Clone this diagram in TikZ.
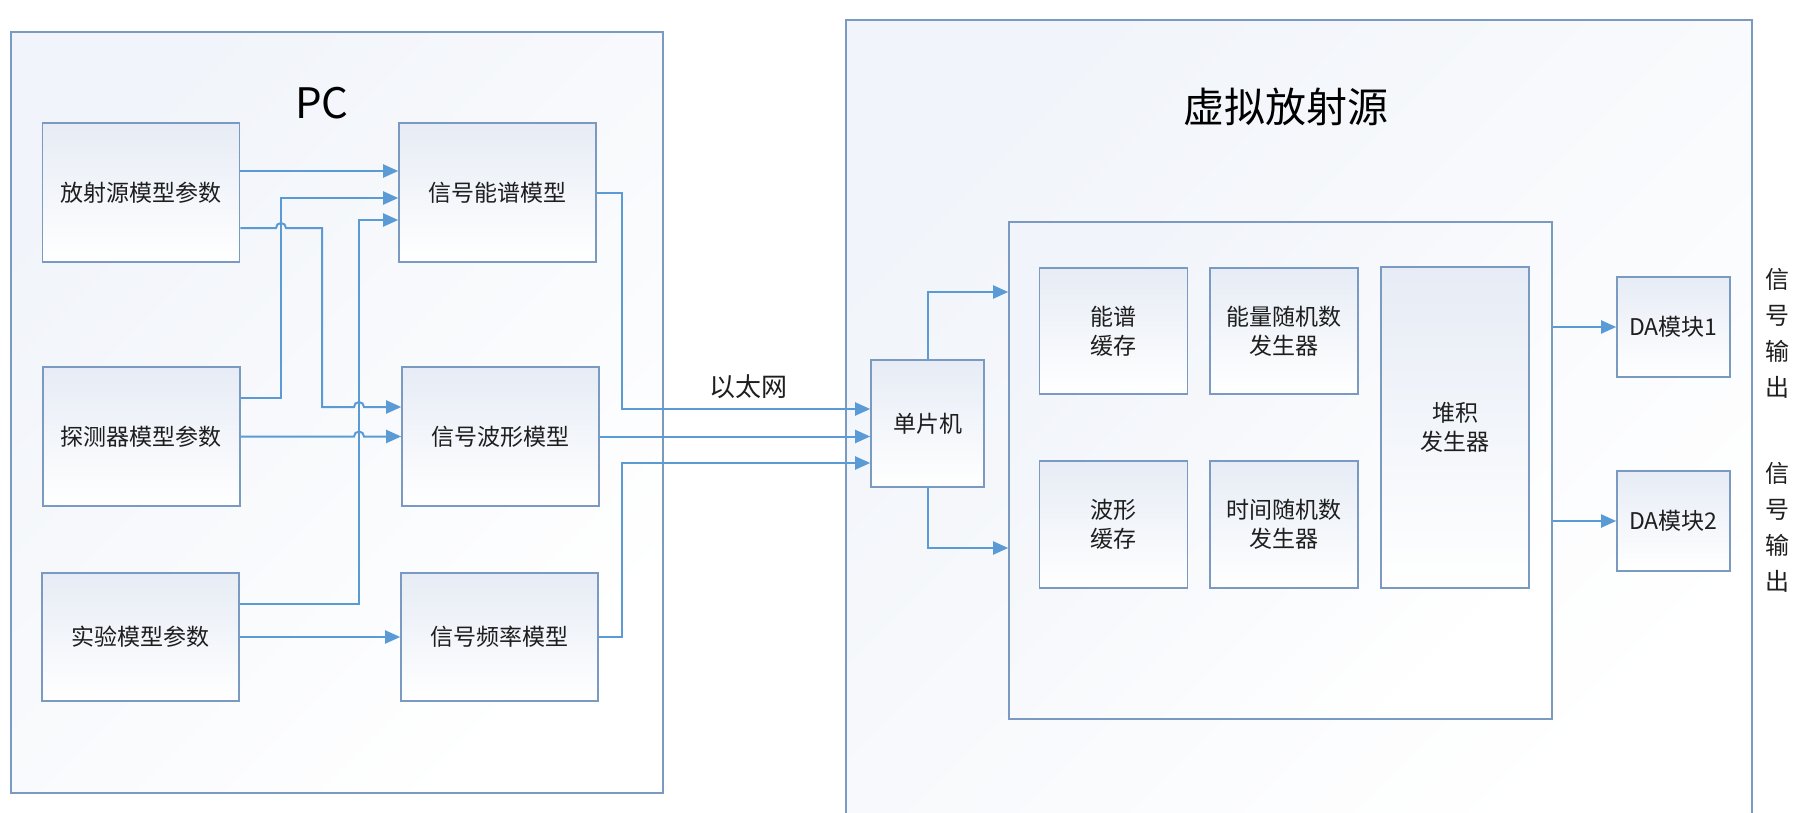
\documentclass[tikz,border=0pt]{standalone}
\usepackage{fontspec}
\setmainfont{Noto Sans CJK SC}
\usepackage{xcolor}
\usetikzlibrary{arrows.meta}

\definecolor{boxline}{RGB}{122,154,194}
\definecolor{linkblue}{RGB}{91,155,213}
\definecolor{shadeblue}{RGB}{224,231,243}
\definecolor{textgray}{RGB}{30,30,30}

\begin{document}
\begin{tikzpicture}[x=0.5pt, y=-0.5pt]
            \tikzstyle{frame} = [rectangle, draw=boxline, line width=0.8pt, bottom color=white, top color=shadeblue!45, shading angle=45, inner sep=0pt]
            \tikzstyle{block} = [frame, top color=shadeblue!80, text=textgray, font=\fontsize{11.5}{14.5}\selectfont, align=center]
            \tikzstyle{title} = [text=black, font=\fontsize{21}{25}\selectfont]
            \tikzstyle{vtext} = [text=textgray, font=\fontsize{12}{18}\selectfont, align=center]
            \tikzstyle{arrow} = [draw=linkblue, line width=1pt, -{Triangle[length=7.5pt, width=6.5pt]}]

            \useasboundingbox (0,0) rectangle (1798,813);
            \clip (0,0) rectangle (1798,813);

            % outer frames
            \node [frame, minimum width=326pt, minimum height=380.5pt] (pc) at (337,412.5) {};
            \node [frame, minimum width=453pt, minimum height=410pt] (vsrc) at (1299,430) {};
            \node [frame, minimum width=271.5pt, minimum height=248.5pt] (fpga) at (1280.5,470.5) {};

            \node [title] (pctitle) at (322,103) {PC};
            \node [title, font=\fontsize{20.5}{24}\selectfont] (vsrctitle) at (1286,107) {虚拟放射源};
            \node [title] (fpgatitle) at (1276,308) {FPGA};

            % PC side
            \node [block, minimum width=98.5pt, minimum height=69.5pt] (srcpar) at (141,192.5) {放射源模型参数};
            \node [block, minimum width=98.5pt, minimum height=69.5pt] (detpar) at (141.5,436.5) {探测器模型参数};
            \node [block, minimum width=98.5pt, minimum height=64pt] (exppar) at (140.5,637) {实验模型参数};
            \node [block, minimum width=98.5pt, minimum height=69.5pt] (specmod) at (497.5,192.5) {信号能谱模型};
            \node [block, minimum width=98.5pt, minimum height=69.5pt] (wavemod) at (500.5,436.5) {信号波形模型};
            \node [block, minimum width=98.5pt, minimum height=64pt] (freqmod) at (499.5,637) {信号频率模型};

            % source side
            \node [block, minimum width=56.5pt, minimum height=63.5pt] (mcu) at (927.5,423.5) {单片机};
            \node [block, minimum width=74pt, minimum height=63pt] (specbuf) at (1113.5,331) {能谱\\缓存};
            \node [block, minimum width=74pt, minimum height=63pt] (energyrng) at (1284,331) {能量随机数\\发生器};
            \node [block, minimum width=74pt, minimum height=63.5pt] (wavebuf) at (1113.5,524.5) {波形\\缓存};
            \node [block, minimum width=74pt, minimum height=63.5pt] (timerng) at (1284,524.5) {时间随机数\\发生器};
            \node [block, minimum width=74pt, minimum height=160.5pt] (pileup) at (1455,427.5) {堆积\\发生器};
            \node [block, minimum width=56.5pt, minimum height=50pt] (daone) at (1673.5,327) {DA模块1};
            \node [block, minimum width=56.5pt, minimum height=50pt] (datwo) at (1673.5,521) {DA模块2};

            \node [text=textgray, font=\fontsize{13}{16}\selectfont] (ethlabel) at (748,387) {以太网};
            \node [vtext] (outone) at (1777,333) {信\\号\\输\\出};
            \node [vtext] (outtwo) at (1777,527) {信\\号\\输\\出};

            % parameters -> models
            \draw [arrow] (srcpar.east |- 0,171) -- (specmod.west |- 0,171);
            \draw [arrow] (srcpar.east |- 0,228) -- (276,228) arc [start angle=180, end angle=360, radius=5] -- (322,228) -- (322,407) -- (354,407) arc [start angle=180, end angle=360, radius=5] -- (wavemod.west |- 0,407);
            \draw [arrow] (detpar.east |- 0,398) -- (281,398) -- (281,198) -- (specmod.west |- 0,198);
            \draw [arrow] (detpar.east) -- (354,436.5) arc [start angle=180, end angle=360, radius=5] -- (wavemod.west);
            \draw [arrow] (exppar.east |- 0,604) -| (359,220) -- (specmod.west |- 0,220);
            \draw [arrow] (exppar) -- (freqmod);

            % models -> mcu
            \draw [arrow] (specmod.east) -| (622,409) -- (mcu.west |- 0,409);
            \draw [arrow] (wavemod.east) -- (mcu.west |- wavemod.east);
            \draw [arrow] (freqmod.east) -| (622,463) -- (mcu.west |- 0,463);

            % mcu -> fpga -> DA
            \draw [arrow] (mcu.north) |- (fpga.west |- 0,292);
            \draw [arrow] (mcu.south) |- (fpga.west |- 0,548);
            \draw [arrow] (fpga.east |- daone) -- (daone);
            \draw [arrow] (fpga.east |- datwo) -- (datwo);
        \end{tikzpicture}
\end{document}
